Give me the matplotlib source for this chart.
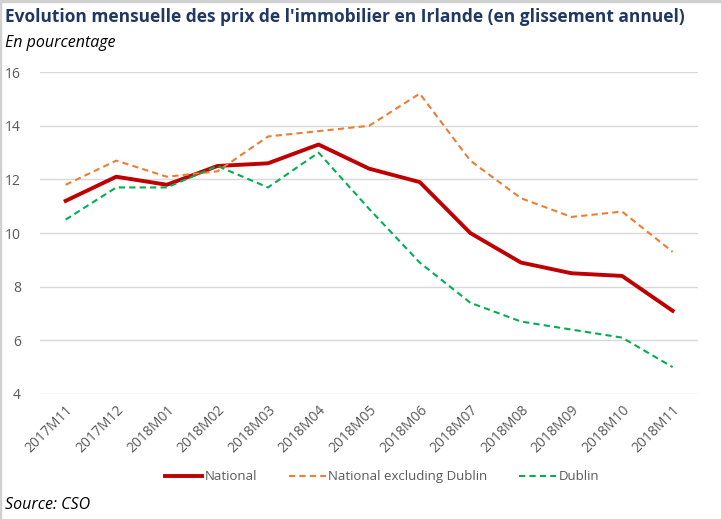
import matplotlib
matplotlib.use("Agg")
import matplotlib.pyplot as plt
from matplotlib.patches import Rectangle

# months (x categories)
months = ["2017M11", "2017M12", "2018M01", "2018M02", "2018M03", "2018M04",
          "2018M05", "2018M06", "2018M07", "2018M08", "2018M09", "2018M10", "2018M11"]

# year-on-year change in %
national = [11.2, 12.1, 11.8, 12.5, 12.6, 13.3, 12.4, 11.9, 10.0, 8.9, 8.5, 8.4, 7.1]
excl_dublin = [11.8, 12.7, 12.1, 12.3, 13.6, 13.8, 14.0, 15.2, 12.7, 11.3, 10.6, 10.8, 9.3]
dublin = [10.5, 11.7, 11.7, 12.5, 11.7, 13.0, 10.9, 8.9, 7.4, 6.7, 6.4, 6.1, 5.0]

plt.rcParams['font.family'] = ['Open Sans', 'DejaVu Sans']

fig = plt.figure(figsize=(7.21, 5.19), dpi=100)
ax = fig.add_axes([0.056, 0.241, 0.912, 0.62])

x = list(range(len(months)))
ax.plot(x, national, color="#C00000", lw=2.8, label="National")
ax.plot(x, excl_dublin, color="#ED7D31", lw=1.5, ls=(0, (3, 2)), label="National excluding Dublin")
ax.plot(x, dublin, color="#00B050", lw=1.5, ls=(0, (3, 2)), label="Dublin")

ax.set_xlim(-0.5, 12.5)
ax.set_ylim(4, 16)
ax.set_yticks([4, 6, 8, 10, 12, 14, 16])
ax.set_xticks(x)
ax.set_xticklabels(months, rotation=45, ha="right", rotation_mode="anchor")
ax.tick_params(axis="both", length=0, colors="#595959", labelsize=10)
ax.tick_params(axis="y", pad=14)
ax.tick_params(axis="x", pad=6)
ax.grid(axis="y", color="#D9D9D9", lw=1)
ax.set_axisbelow(True)
for s in ax.spines.values():
    s.set_visible(False)

ax.legend(loc="center", bbox_to_anchor=(0.52, -0.258), ncol=3, frameon=False,
          fontsize=9.5, labelcolor="#595959", handlelength=2.8, handletextpad=0.2,
          columnspacing=2.4)

fig.text(0.007, 0.968, "Evolution mensuelle des prix de l'immobilier en Irlande (en glissement annuel)",
         fontsize=12.5, fontweight="bold", color="#1F3864", va="center")
fig.text(0.007, 0.918, "En pourcentage", fontsize=11.5, style="italic", va="center")
fig.text(0.007, 0.027, "Source: CSO", fontsize=11.5, style="italic", va="center")

# thin frame at the left and top of the picture
fig.add_artist(Rectangle((0, 0), 0.002, 1, transform=fig.transFigure, color="#D0D0D0"))
fig.add_artist(Rectangle((0, 0.997), 1, 0.003, transform=fig.transFigure, color="#D0D0D0"))

fig.savefig("out.png", dpi=100)
